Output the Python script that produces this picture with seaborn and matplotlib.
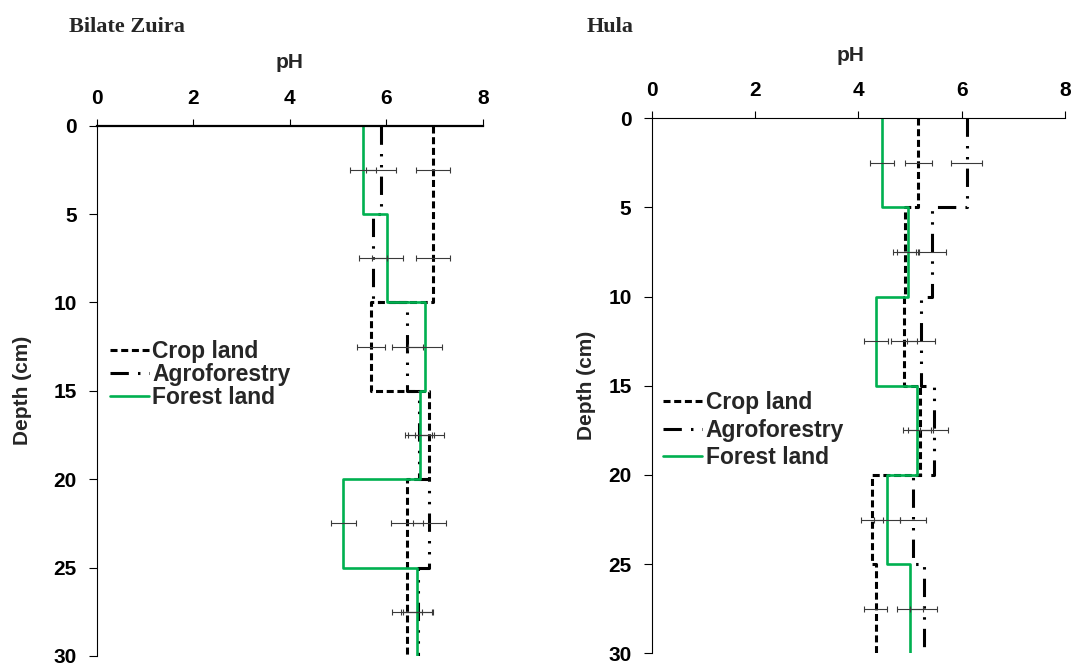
import numpy as np
import pandas as pd
import seaborn as sns
import matplotlib
matplotlib.use("Agg")
import matplotlib.pyplot as plt
from matplotlib.lines import Line2D

# Soil depth layers (cm)
depth_edges = [0, 5, 10, 15, 20, 25, 30]
depth_mid = [2.5, 7.5, 12.5, 17.5, 22.5, 27.5]

# Bilate Zuira: mean pH per layer and standard error
bz_crop = [6.97, 6.97, 5.68, 6.89, 6.42, 6.42]
bz_agro = [5.88, 5.73, 6.43, 6.68, 6.89, 6.65]
bz_forest = [5.52, 6.02, 6.80, 6.69, 5.11, 6.64]
bz_crop_se = [0.35, 0.35, 0.29, 0.30, 0.33, 0.31]
bz_agro_se = [0.31, 0.29, 0.32, 0.30, 0.35, 0.30]
bz_forest_se = [0.27, 0.32, 0.36, 0.25, 0.26, 0.33]

# Hula: mean pH per layer and standard error
hu_crop = [5.16, 4.90, 4.88, 5.20, 4.27, 4.34]
hu_agro = [6.10, 5.42, 5.22, 5.46, 5.06, 5.27]
hu_forest = [4.46, 4.96, 4.35, 5.14, 4.56, 5.00]
hu_crop_se = [0.26, 0.22, 0.25, 0.24, 0.21, 0.22]
hu_agro_se = [0.30, 0.27, 0.27, 0.27, 0.26, 0.26]
hu_forest_se = [0.23, 0.22, 0.23, 0.27, 0.25, 0.25]

land_uses = ["Crop land", "Agroforestry", "Forest land"]
x_ticks = [0, 2, 4, 6, 8]
y_ticks = [0, 5, 10, 15, 20, 25, 30]

sns.set_theme(style="ticks")
plt.rcParams["font.family"] = ["Liberation Sans", "DejaVu Sans"]
plt.rcParams["font.weight"] = "bold"

GREEN = "#00B050"
styles = {
    "Crop land": dict(color="black", lw=2.2, dash=(0, (2.3, 1.2))),
    "Agroforestry": dict(color="black", lw=2.2, dash=(0, (6.0, 3.0, 0.8, 2.8, 0.8, 3.0))),
    "Forest land": dict(color=GREEN, lw=1.9, dash="-"),
}


def step_frame(values):
    """Vertical step profile: each layer drawn at its pH from top to bottom depth."""
    xs = np.repeat(values, 2)
    ys = np.column_stack([depth_edges[:-1], depth_edges[1:]]).ravel()
    return pd.DataFrame({"pH": xs, "depth": ys})


def draw_panel(ax, series, errors, top_lw):
    for name, vals in zip(land_uses, series):
        st = styles[name]
        sns.lineplot(data=step_frame(vals), x="pH", y="depth", sort=False,
                     estimator=None, color=st["color"], linewidth=st["lw"],
                     ax=ax, legend=False, zorder=2)
        ln = ax.lines[-1]
        ln.set_linestyle(st["dash"])
        ln.set_dash_capstyle("butt")
        ln.set_label(name)
    for vals, se in zip(series, errors):
        ax.errorbar(vals, depth_mid, xerr=se, fmt="none", ecolor="#3a3a3a",
                    elinewidth=0.8, capsize=2.3, capthick=0.8, zorder=3)

    ax.set_xlim(0, 8)
    ax.set_ylim(30, 0)
    ax.set_xticks(x_ticks)
    ax.set_yticks(y_ticks)
    ax.xaxis.tick_top()
    ax.xaxis.set_label_position("top")
    ax.tick_params(axis="x", top=True, bottom=False, labeltop=True,
                   labelbottom=False, direction="out", length=5, width=0.8,
                   pad=8, labelsize=15, colors="black")
    ax.tick_params(axis="y", left=True, direction="out", length=5.5, width=0.8,
                   pad=9, labelsize=15, colors="black")
    for lab in ax.get_xticklabels() + ax.get_yticklabels():
        lab.set_fontweight("bold")
    for lab in ax.get_yticklabels():
        lab.set_verticalalignment("center_baseline")
    for side in ("right", "bottom"):
        ax.spines[side].set_visible(False)
    ax.spines["top"].set_linewidth(top_lw)
    ax.spines["left"].set_linewidth(0.8)
    ax.spines["top"].set_color("black")
    ax.spines["left"].set_color("black")
    ax.set_xlabel("pH", fontsize=15, fontweight="bold")
    ax.set_ylabel("Depth (cm)", fontsize=15, fontweight="bold")
    ax.xaxis.label.set_va("center")
    ax.yaxis.label.set_va("center")


fig = plt.figure(figsize=(10.72, 6.67), dpi=100)
ax1 = fig.add_axes([0.0902, 0.0165, 0.3604, 0.7951])
ax2 = fig.add_axes([0.6079, 0.0205, 0.3855, 0.8021])

draw_panel(ax1, [bz_crop, bz_agro, bz_forest],
           [bz_crop_se, bz_agro_se, bz_forest_se], top_lw=1.6)
draw_panel(ax2, [hu_crop, hu_agro, hu_forest],
           [hu_crop_se, hu_agro_se, hu_forest_se], top_lw=0.8)

ax1.xaxis.set_label_coords(0.5, 1.119)
ax2.xaxis.set_label_coords(0.48, 1.118)
ax1.yaxis.set_label_coords(-0.193, 0.5)
ax2.yaxis.set_label_coords(-0.157, 0.5)


def add_legend(ax, anchor, spacing):
    handles = []
    for name in land_uses:
        st = styles[name]
        handles.append(Line2D([0], [0], color=st["color"], lw=st["lw"],
                              linestyle=st["dash"], dash_capstyle="butt"))
    ax.legend(handles, land_uses, loc="upper left", bbox_to_anchor=anchor,
              frameon=False, prop=dict(size=16.5, weight="bold"),
              handlelength=1.7, handletextpad=0.15, labelspacing=spacing,
              borderaxespad=0, borderpad=0)


add_legend(ax1, (0.034, 0.595), 0.0)
add_legend(ax2, (0.028, 0.490), 0.2)

fig.text(69 / 1072, 1 - 32 / 667, "Bilate Zuira", fontsize=16, fontweight="bold",
         family=["Liberation Serif", "DejaVu Serif"], va="baseline", ha="left")
fig.text(587 / 1072, 1 - 32 / 667, "Hula", fontsize=16, fontweight="bold",
         family=["Liberation Serif", "DejaVu Serif"], va="baseline", ha="left")

fig.savefig("out.png", dpi=100, facecolor="white")
